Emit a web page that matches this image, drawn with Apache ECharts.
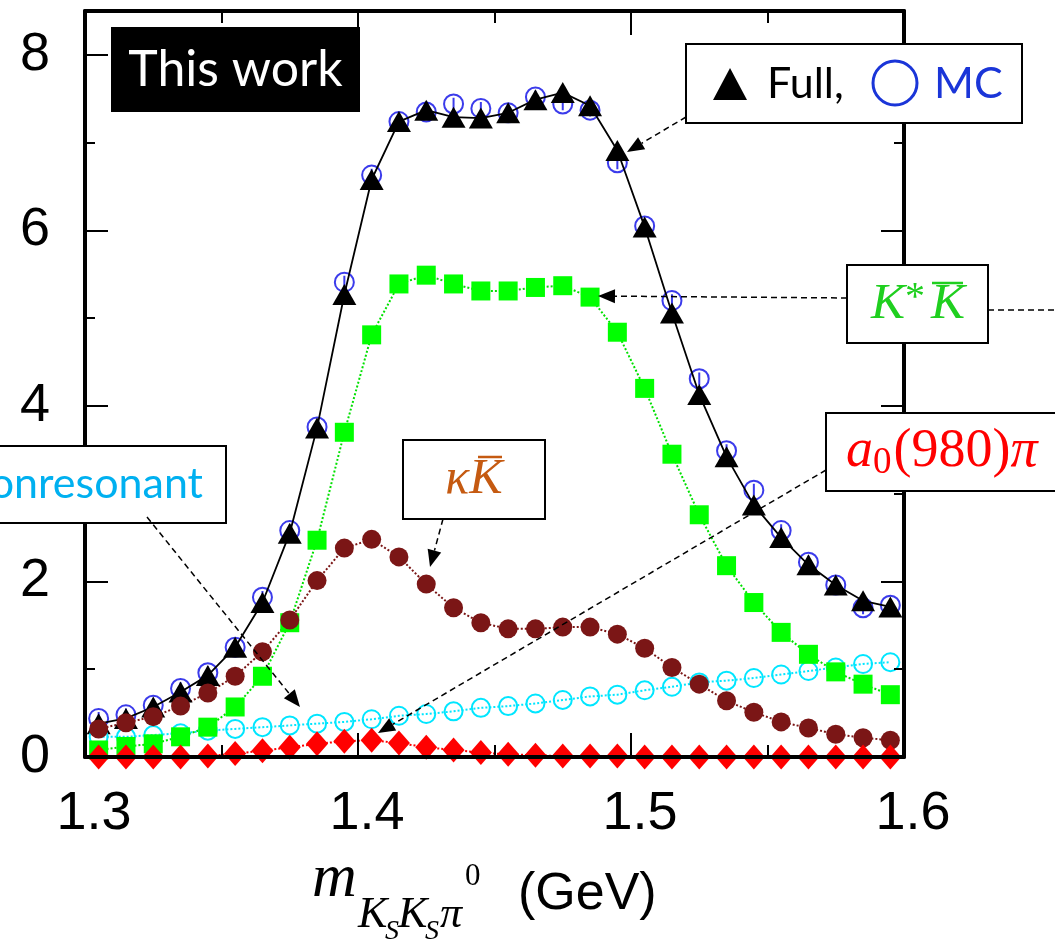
<!DOCTYPE html>
<html><head><meta charset="utf-8">
<script src="https://cdn.jsdelivr.net/npm/echarts@6/dist/echarts.min.js"></script>
<style>html,body{margin:0;padding:0;background:#fff}#c{width:1055px;height:949px}</style>
</head><body><div id="c"></div>
<script>
// ---- data ----
const mass = [1.305,1.315,1.325,1.335,1.345,1.355,1.365,1.375,1.385,1.395,1.405,1.415,1.425,1.435,1.445,1.455,1.465,1.475,1.485,1.495,1.505,1.515,1.525,1.535,1.545,1.555,1.565,1.575,1.585,1.595];
const full   = [0.38,0.44,0.57,0.74,0.93,1.25,1.76,2.55,3.75,5.27,6.58,7.24,7.37,7.29,7.28,7.34,7.49,7.57,7.42,6.91,6.04,5.06,4.13,3.42,2.87,2.50,2.19,1.96,1.78,1.71];
const mc     = [0.44,0.48,0.59,0.78,0.96,1.25,1.82,2.58,3.76,5.41,6.63,7.24,7.35,7.44,7.39,7.34,7.52,7.44,7.37,6.77,6.05,5.20,4.31,3.49,3.04,2.58,2.22,1.96,1.70,1.73];
const kstarK = [0.08,0.12,0.15,0.23,0.34,0.57,0.92,1.53,2.47,3.70,4.81,5.39,5.49,5.39,5.31,5.31,5.35,5.37,5.24,4.84,4.20,3.45,2.76,2.18,1.76,1.42,1.17,0.97,0.83,0.71];
const kappaK = [0.32,0.39,0.46,0.58,0.73,0.92,1.20,1.56,2.01,2.38,2.48,2.28,1.97,1.70,1.53,1.46,1.46,1.48,1.48,1.40,1.24,1.02,0.83,0.64,0.51,0.40,0.33,0.26,0.22,0.19];
const nonres = [0.23,0.23,0.25,0.27,0.30,0.32,0.34,0.36,0.38,0.40,0.43,0.47,0.49,0.52,0.56,0.58,0.61,0.65,0.69,0.71,0.76,0.80,0.85,0.87,0.90,0.94,0.98,1.02,1.06,1.08];
const a0pi   = [0.00,0.00,0.00,0.00,0.01,0.04,0.07,0.11,0.15,0.18,0.19,0.16,0.11,0.08,0.05,0.03,0.02,0.01,0.01,0.01,0.00,0.00,0.00,0.00,0.00,0.00,0.00,0.00,0.00,0.00];
const xTickLabels = [1.3,1.4,1.5,1.6];
const yMajor = [0,2,4,6,8];
const yMinor = [1,3,5,7];

// ---- chart ----
const chart = echarts.init(document.getElementById('c'));
const pts = arr => mass.map((m,i)=>[m, arr[i]]);
const K = '#000';
const GRID = {left:85, right:151, top:11, bottom:192};

const baseX = {type:'value', min:1.3, max:1.6, interval:0.1, z:10, splitLine:{show:false},
  axisLine:{show:true,onZero:false,lineStyle:{color:K,width:4}},
  axisTick:{show:true,inside:true,length:24,lineStyle:{color:K,width:2}},
  minorTick:{show:true,splitNumber:2,length:12,lineStyle:{color:K,width:2}},
  minorSplitLine:{show:false}};
const baseY = {type:'value', min:0, max:8.5, interval:2, z:10, splitLine:{show:false},
  axisLine:{show:true,onZero:false,lineStyle:{color:K,width:4}},
  axisTick:{show:true,inside:true,length:23,customValues:yMajor,lineStyle:{color:K,width:2}}};
const minorY = {type:'value', min:0, max:8.5, z:10, gridIndex:1, splitLine:{show:false},
  axisLine:{show:false}, axisLabel:{show:false},
  axisTick:{show:true,inside:true,length:10,customValues:yMinor,lineStyle:{color:K,width:2}}};

const MCsym = 'path://M0,-9A9,9 0 1,1 -0.01,-9Z M0,-6L0,6';

// ---- annotation helpers ----
const g = [];
function box(x,y,w,h,fill){ g.push({type:'rect',z:100,shape:{x,y,width:w,height:h},style:{fill:fill||'#fff',stroke:'#000',lineWidth:2}}); }
function arrow(x1,y1,x2,y2,head){
  const dx=x2-x1, dy=y2-y1, L=Math.hypot(dx,dy), ux=dx/L, uy=dy/L;
  const hl = head?17:0, hw=7;
  const bx=x2-ux*hl, by=y2-uy*hl;
  g.push({type:'line',z:100,shape:{x1,y1,x2:bx,y2:by},style:{stroke:'#000',lineWidth:1.5,lineDash:[6,4]}});
  if(head) g.push({type:'polygon',z:100,shape:{points:[[x2,y2],[bx-uy*hw,by+ux*hw],[bx+uy*hw,by-ux*hw]]},style:{fill:'#000'}});
}
function txt(x,y,text,o){ g.push({type:'text',z:101,x,y,style:Object.assign({text,fill:'#000',align:'left',verticalAlign:'middle'},o)}); }
function bar(x1,x2,y,c){ g.push({type:'line',z:101,shape:{x1,y1:y,x2,y2:y},style:{stroke:c,lineWidth:2.5}}); }

// This work
g.push({type:'rect',z:100,shape:{x:111,y:27,width:249,height:85},style:{fill:'#000'}});
txt(235.5,70,'This work',{fill:'#fff',align:'center',font:'50px Lato'});
// Full / MC legend box
box(686,44,336,79);
g.push({type:'polygon',z:101,shape:{points:[[713,100],[747,100],[730,68]]},style:{fill:'#000'}});
txt(767,84,'Full,',{font:'43px Lato'});
g.push({type:'circle',z:101,shape:{cx:895,cy:83,r:22},style:{fill:'none',stroke:'#1a35d8',lineWidth:3}});
txt(934,84,'MC',{font:'43px Lato',fill:'#1a35d8'});
arrow(686,117,627,152,true);
// K* Kbar
box(847,265,141,78);
txt(871,305,'{k|K}{s|*}{k|K}',{rich:{k:{font:'italic 51px "Liberation Serif"',fill:'#1fcf1f'},s:{font:'40px "Liberation Serif"',fill:'#1fcf1f',padding:[0,6,14,0]}}});
bar(932,963,283,'#1fcf1f');
arrow(847,298,598,296,true);
arrow(988,310,1060,310,false);
// a0(980) pi
box(826,413,240,78);
txt(846,452,'{i|a}{sub|0}{r|(980)}{i|π}',{rich:{i:{font:'italic 54px "Liberation Serif"',fill:'#ff0000'},sub:{font:'37px "Liberation Serif"',fill:'#ff0000',padding:[22,2,0,0]},r:{font:'54px "Liberation Serif"',fill:'#ff0000'}}});
arrow(826,470,378,733,true);
// kappa Kbar
box(403,440,142,79);
txt(474,480,'{k|κK}',{align:'center',rich:{k:{font:'italic 50px "Liberation Serif"',fill:'#c55a11'}}});
bar(478,502,457,'#c55a11');
arrow(443,519,430,567,true);
// Nonresonant
box(-60,446,286,77);
txt(203,484,'Nonresonant',{align:'right',font:'43px Lato',fill:'#00b0f0'});
arrow(147,517,300,707,true);
// x axis title
txt(312,880,'m',{font:'italic 62px "Liberation Serif"'});
txt(358,915,'K',{font:'italic 44px "Liberation Serif"'});
txt(385,932,'S',{font:'italic 28px "Liberation Serif"'});
txt(398,915,'K',{font:'italic 44px "Liberation Serif"'});
txt(425,932,'S',{font:'italic 28px "Liberation Serif"'});
txt(440,915,'π',{font:'italic 44px "Liberation Serif"'});
txt(465,877,'0',{font:'31px "Liberation Serif"'});
txt(518,895,'(GeV)',{font:'52px "Liberation Sans"'});

const option = {
  animation:false,
  backgroundColor:'#fff',
  grid:[GRID, GRID],
  xAxis:[
    Object.assign({}, baseX, {position:'bottom', axisLabel:{show:true, customValues:xTickLabels, fontSize:54, fontFamily:'Liberation Sans', color:'#000', margin:30, padding:[0,0,0,18]}}),
    Object.assign({}, baseX, {position:'top', axisLabel:{show:false}}),
    {type:'value', gridIndex:1, min:1.3, max:1.6, show:false}
  ],
  yAxis:[
    Object.assign({}, baseY, {position:'left', axisLabel:{show:true, customValues:yMajor, fontSize:54, fontFamily:'Liberation Sans', color:'#000', margin:35}}),
    Object.assign({}, baseY, {position:'right', axisLabel:{show:false}}),
    Object.assign({}, minorY, {position:'left'}),
    Object.assign({}, minorY, {position:'right'})
  ],
  series:[
    {name:'Full', type:'line', data:pts(full), symbol:'triangle', symbolSize:[24,21], itemStyle:{color:'#000'}, lineStyle:{color:'#000',width:1.8}},
    {name:'MC', type:'scatter', data:pts(mc), symbol:MCsym, symbolSize:19, itemStyle:{color:'rgba(0,0,0,0)',borderColor:'#0a0ae6',borderWidth:2}},
    {name:'Nonresonant', type:'line', data:pts(nonres), symbol:'circle', symbolSize:18, itemStyle:{color:'rgba(0,0,0,0)',borderColor:'#00e6ff',borderWidth:2}, lineStyle:{color:'#00e6ff',width:2,type:'dotted'}},
    {name:'K*K', type:'line', data:pts(kstarK), symbol:'rect', symbolSize:19, itemStyle:{color:'#00ff00'}, lineStyle:{color:'#00e000',width:2,type:'dotted'}},
    {name:'kappaK', type:'line', data:pts(kappaK), symbol:'circle', symbolSize:19, itemStyle:{color:'#7b1616'}, lineStyle:{color:'#7b1616',width:2,type:'dotted'}},
    {name:'a0pi', type:'line', data:pts(a0pi), symbol:'diamond', symbolSize:[22,25], itemStyle:{color:'#ff0000'}, lineStyle:{color:'#ff0000',width:2,type:'dotted'}}
  ],
  graphic:g
};
chart.setOption(option);
</script>
</body></html>
